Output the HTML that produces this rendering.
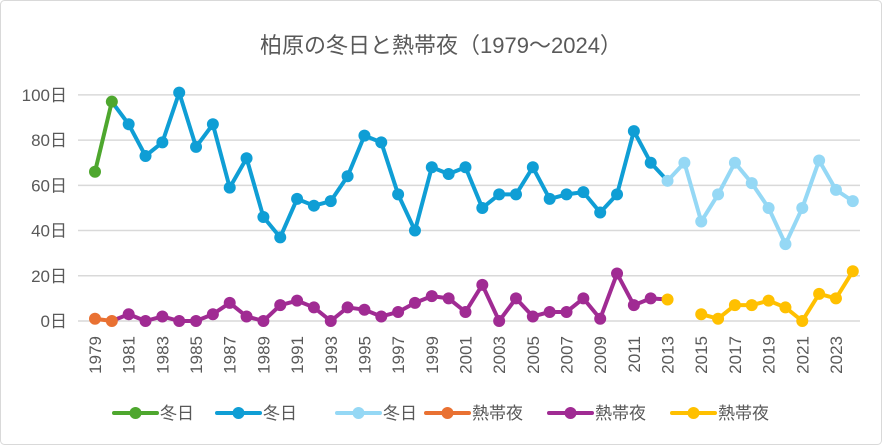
<!DOCTYPE html><html><head><meta charset="utf-8"><style>body{margin:0;background:#fff}svg{display:block;font-family:"Liberation Sans","Noto Sans CJK JP",sans-serif}</style></head><body>
<svg id="s" width="882" height="445" xmlns="http://www.w3.org/2000/svg">
<rect x="0.5" y="0.5" width="881" height="444" rx="4" fill="#fff" stroke="#d9d9d9"/>
<text x="441" y="53" text-anchor="middle" font-size="22" fill="#595959">柏原の冬日と熱帯夜（1979～2024）</text>
</svg>
<script>
const s=document.getElementById('s');const NS='http://www.w3.org/2000/svg';
function el(t,a,txt){const e=document.createElementNS(NS,t);for(const k in a)e.setAttribute(k,a[k]);if(txt!=null)e.textContent=txt;s.appendChild(e);return e;}
const X=y=>95+(y-1979)*16.84, Y=v=>321-v*2.261;
for(let v=0;v<=100;v+=20){el('line',{x1:78,x2:860,y1:Y(v),y2:Y(v),stroke:'#d9d9d9','stroke-width':1.5});el('text',{x:67,y:Y(v)+6,'text-anchor':'end','font-size':17,fill:'#595959'},v+'日');}
for(let y=1979;y<=2023;y+=2){const x=X(y)+6;el('text',{x:x,y:336,'text-anchor':'end','font-size':17,fill:'#595959',transform:`rotate(-90 ${x} 336)`},y);}
const w=[66,97,87,73,79,101,77,87,59,72,46,37,54,51,53,64,82,79,56,40,68,65,68,50,56,56,68,54,56,57,48,56,84,70,62,70,44,56,70,61,50,34,50,71,58,53];
const n=[1,0,3,0,2,0,0,3,8,2,0,7,9,6,0,6,5,2,4,8,11,10,4,16,0,10,2,4,4,10,1,21,7,10,9.5,null,3,1,7,7,9,6,0,12,10,22];
function ser(d,a,b,c,mk){mk=mk||[a,b];let p=[];for(let y=a;y<=b;y++){const v=d[y-1979];if(v!=null)p.push(X(y)+','+Y(v));}
el('polyline',{points:p.join(' '),fill:'none',stroke:c,'stroke-width':4,'stroke-linejoin':'round'});
for(let y=mk[0];y<=mk[1];y++){const v=d[y-1979];if(v!=null)el('circle',{cx:X(y),cy:Y(v),r:6,fill:c});}}
ser(w,1980,2013,'#0f9ed5',[1981,2012]);ser(w,2013,2024,'#95d8f5');ser(w,1979,1980,'#4ea72e');
ser(n,1980,2013,'#a02b93',[1981,2012]);ser(n,1979,1980,'#e97132');ser(n,2013,2013,'#ffc000');ser(n,2015,2024,'#ffc000');
const L=[[114,'#4ea72e','冬日'],[217,'#0f9ed5','冬日'],[337,'#95d8f5','冬日'],[426,'#e97132','熱帯夜'],[549,'#a02b93','熱帯夜'],[672,'#ffc000','熱帯夜']];
for(const[x,c,t]of L){el('line',{x1:x,x2:x+43,y1:413,y2:413,stroke:c,'stroke-width':4,'stroke-linecap':'round'});el('circle',{cx:x+21.5,cy:413,r:6,fill:c});el('text',{x:x+46,y:419,'font-size':17,fill:'#595959'},t);}
</script></body></html>
